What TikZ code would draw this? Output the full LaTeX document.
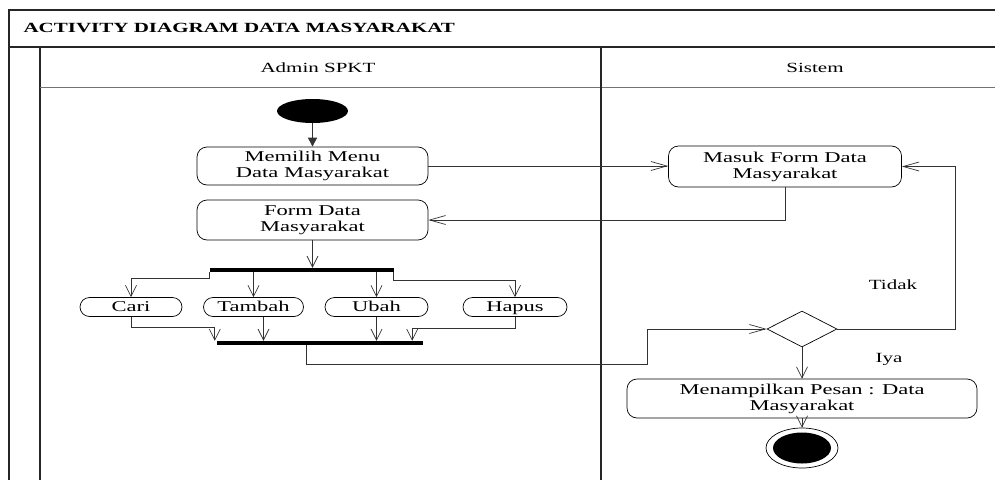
\documentclass[tikz,border=0pt]{standalone}
\usepackage{fontspec}
\setmainfont{Liberation Serif}[FakeStretch=1.5]
\usetikzlibrary{arrows.meta,shapes.geometric}

\begin{document}
\begin{tikzpicture}[x=1pt,y=-1pt,
  frame/.style={line width=1.3pt, black!85},
  act/.style={draw, rounded corners=10pt, line width=0.7pt, align=center,
    inner sep=0pt, font=\fontsize{15}{16}\selectfont},
  pill/.style={draw, rounded corners=9.5pt, minimum height=19pt, inner sep=0pt,
    text height=10pt, text depth=1pt,
    line width=0.7pt, font=\fontsize{15}{16}\selectfont},
  bar/.style={fill=black, inner sep=0pt, minimum height=4pt},
  flow/.style={line width=0.7pt, black!80},
  va/.style={flow, -{Straight Barb[length=11pt,width=11pt]}},
  ha/.style={flow, -{Straight Barb[length=16pt,width=9pt]}},
  lbl/.style={font=\fontsize{14}{16}\selectfont}
]
\useasboundingbox (0,0) rectangle (995,479);

% swimlane frame
\draw[frame] (997,10) -- (9,10) -- (9,481);
\draw[frame] (9,47) -- (997,47);
\draw[frame] (40,47) -- (40,481);
\draw[line width=1pt, black!55] (40,87) -- (997,87);
\draw[frame] (601,47) -- (601,481);

\node[anchor=west, font=\fontsize{14}{16}\selectfont\bfseries] (title) at (20,28)
  {ACTIVITY DIAGRAM DATA MASYARAKAT};
\node[font=\fontsize{14}{16}\selectfont] (lane1) at (318,68) {Admin SPKT};
\node[font=\fontsize{14}{16}\selectfont] (lane2) at (815,68) {Sistem};

% nodes
\node[ellipse, fill=black, minimum width=71pt, minimum height=24pt, inner sep=0pt] (init) at (312.5,111) {};
\node[act, minimum width=231pt, minimum height=38pt] (m1) at (312.5,166) {Memilih Menu\\Data Masyarakat};
\node[act, minimum width=231pt, minimum height=40pt] (m2) at (312.5,220) {Form Data\\Masyarakat};
\node[act, minimum width=233pt, minimum height=41pt] (s1) at (785,166.5) {Masuk Form Data\\Masyarakat};

\node[bar, minimum width=184pt] (fork) at (301.5,270) {};
\node[pill, minimum width=102pt] (cari) at (131,307) {Cari};
\node[pill, minimum width=100pt] (tambah) at (253.5,307) {Tambah};
\node[pill, minimum width=103pt] (ubah) at (376.5,307) {Ubah};
\node[pill, minimum width=104pt] (hapus) at (515,307) {Hapus};
\node[bar, minimum width=206pt] (join) at (320,343) {};

\node[diamond, draw, line width=0.7pt, minimum width=70pt, minimum height=36pt, inner sep=0pt] (dia) at (802,329) {};
\node[act, minimum width=350pt, minimum height=39pt] (s2) at (802,398.5) {Menampilkan Pesan : Data\\Masyarakat};
\node[ellipse, draw, line width=0.7pt, minimum width=72pt, minimum height=40pt, inner sep=0pt] (final) at (802,448) {};
\node[ellipse, fill=black, minimum width=58pt, minimum height=31pt, inner sep=0pt] (finalin) at (final.center) {};

\node[lbl] (tidak) at (893,285) {Tidak};
\node[lbl] (iya) at (889,359) {Iya};

% helper points for routed connectors
\coordinate (tb) at ([xshift=10pt]tambah.south);
\coordinate (jc) at ([xshift=-2pt]join.north west);
\coordinate (jh) at ([xshift=-11pt]join.north east);
\coordinate (jb) at ([xshift=-14pt]join.south);
\coordinate (turn) at (647,364);
\coordinate (rt) at (955,0);

% flows
\draw[flow, -{Triangle[length=9pt,width=9pt]}] (init) -- (m1);
\draw[ha] (m1.east) -- (m1.east -| s1.west);
\draw[ha] (s1.south) |- (m2.east);
\draw[va] (m2.south) -- (m2.south |- fork.north);

\draw[va] (fork.south west) -- ++(0,6) -| (cari.north);
\draw[va] (tambah.north |- fork.south) -- (tambah.north);
\draw[va] (ubah.north |- fork.south) -- (ubah.north);
\draw[va] (fork.south east) -- ++(0,8) -| (hapus.north);

\draw[va] (cari.south) |- ([yshift=13pt]jc) -- (jc);
\draw[va] (tb) -- (tb |- join.north);
\draw[va] (ubah.south) -- (ubah.south |- join.north);
\draw[va] (hapus.south) -- ++(0,11) -| (jh);

\draw[ha] (jb) |- (turn) |- (dia.west);
\draw[ha] (dia.east) -| (rt |- s1.east) -- (s1.east);
\draw[va] (dia.south) -- (s2.north);
\draw[va] (s2.south) -- (final.north);

\end{tikzpicture}
\end{document}
